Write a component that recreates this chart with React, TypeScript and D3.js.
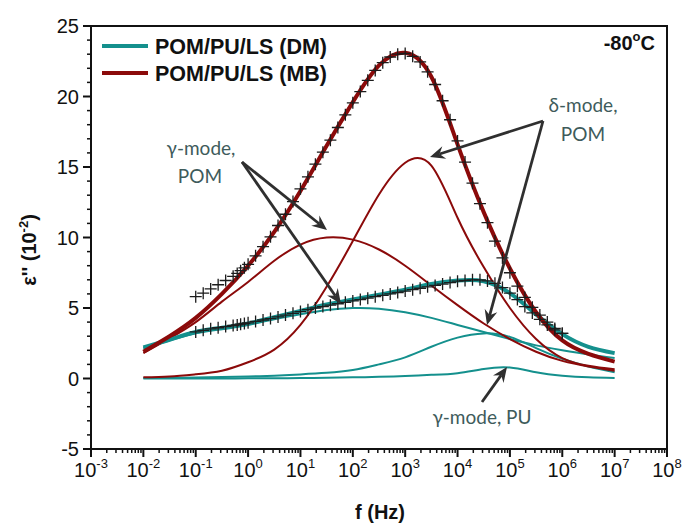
import React from "react";
import * as d3 from "d3";

// Fit curves sampled every half decade (Hz)
const fitFreq = [1e-2, 3.16e-2, 1e-1, 3.16e-1, 1, 3.16, 10, 31.6, 100, 316, 1e3, 3.16e3, 1e4, 3.16e4, 1e5, 3.16e5, 1e6, 3.16e6, 1e7];
const mbFit = [1.9, 3.0, 4.3, 6.0, 8.0, 10.4, 13.3, 16.5, 19.6, 22.2, 23.1, 21.4, 16.6, 11.8, 7.8, 4.7, 2.7, 1.75, 1.2];
const mbGammaPOM = [1.8, 2.85, 4.0, 5.45, 6.85, 8.35, 9.5, 10.0, 9.85, 9.15, 8.0, 6.6, 5.2, 3.9, 2.8, 1.9, 1.25, 0.85, 0.55];
const mbDeltaPOM = [0.08, 0.15, 0.3, 0.55, 1.15, 2.05, 3.8, 6.5, 9.75, 13.05, 15.3, 15.1, 11.4, 7.9, 5.0, 2.8, 1.45, 0.9, 0.65];
const dmFit = [2.2, 2.75, 3.3, 3.6, 3.9, 4.35, 4.8, 5.25, 5.6, 5.95, 6.3, 6.7, 6.95, 6.9, 6.05, 4.55, 3.15, 2.25, 1.8];
const dmGammaPOM = [2.15, 2.7, 3.2, 3.5, 3.8, 4.2, 4.55, 4.85, 5.0, 4.95, 4.7, 4.3, 3.8, 3.3, 2.8, 2.35, 2.0, 1.7, 1.45];
const dmDeltaPOM = [0.03, 0.05, 0.07, 0.1, 0.14, 0.2, 0.29, 0.4, 0.6, 1.0, 1.5, 2.25, 2.9, 3.2, 2.95, 2.15, 1.4, 0.85, 0.45];
const dmGammaPU = [0, 0, 0, 0, 0.01, 0.02, 0.03, 0.05, 0.08, 0.12, 0.18, 0.26, 0.38, 0.68, 0.78, 0.45, 0.2, 0.08, 0.04];

// Measured loss (Hz)
const dataFreq = [
  0.1, 0.139, 0.193, 0.268, 0.373, 0.518, 0.62, 0.72, 0.85,
  1, 1.39, 1.93, 2.68, 3.73, 5.18, 7.2,
  10, 13.9, 19.3, 26.8, 37.3, 51.8, 72,
  100, 139, 193, 268, 373, 518, 720,
  1000, 1390, 1930, 2680, 3730, 5180, 7200,
  1e4, 1.39e4, 1.93e4, 2.68e4, 3.73e4, 5.18e4, 7.2e4,
  1e5, 1.39e5, 1.93e5, 2.68e5, 3.73e5, 5.18e5, 7.2e5, 1e6,
];
const mbData = [
  5.8, 6.05, 6.35, 6.65, 6.95, 7.25, 7.45, 7.65, 7.85,
  8.1, 8.7, 9.35, 10.05, 10.85, 11.65, 12.55,
  13.45, 14.3, 15.2, 16.05, 16.9, 17.8, 18.7,
  19.55, 20.35, 21.15, 21.85, 22.4, 22.8, 23.0,
  23.05, 22.85, 22.45, 21.75, 20.85, 19.7, 18.35,
  16.85, 15.35, 13.85, 12.4, 11.05, 9.75, 8.55,
  7.5, 6.55, 5.75, 5.05, 4.5, 4.0, 3.55, 3.2,
];
const dmData = [
  3.3, 3.42, 3.52, 3.6, 3.68, 3.76, 3.8, 3.85, 3.9,
  3.95, 4.05, 4.15, 4.25, 4.37, 4.5, 4.62,
  4.75, 4.88, 5.0, 5.1, 5.2, 5.3, 5.4,
  5.5, 5.6, 5.7, 5.8, 5.9, 6.0, 6.1,
  6.2, 6.3, 6.4, 6.5, 6.6, 6.7, 6.8,
  6.9, 6.95, 7.0, 7.0, 6.92, 6.75, 6.45,
  6.05, 5.6, 5.1, 4.65, 4.2, 3.8, 3.45, 3.2,
];

const xExponents = [-3, -2, -1, 0, 1, 2, 3, 4, 5, 6, 7, 8];
const yMajor = [-5, 0, 5, 10, 15, 20, 25];
const legendLabels = ["POM/PU/LS (DM)", "POM/PU/LS (MB)"];

const TEAL = "#14908d";
const RED = "#8b0a0a";
const ARROW = "#2f2f2f";
const NOTE = "#3e5b5b";
const AXIS_FONT = "'Liberation Sans', Arial, sans-serif";
const NOTE_FONT = "Lato, 'Noto Sans', sans-serif";

const left = 91, right = 667, top = 26, bottom = 449;

export default function App() {
  const x = d3.scaleLog().domain([1e-3, 1e8]).range([left, right]);
  const y = d3.scaleLinear().domain([-5, 25]).range([bottom, top]);

  const line = (vals: number[]) =>
    d3
      .line<number>()
      .x((_, i) => x(fitFreq[i]))
      .y((v) => y(v))
      .curve(d3.curveNatural)(vals) as string;

  const minorX: number[] = [];
  for (let e = -3; e < 8; e++) {
    for (let m = 2; m <= 9; m++) minorX.push(m * Math.pow(10, e));
  }
  const minorY = d3.range(-5, 25.5, 1).filter((v) => v % 5 !== 0);

  const arrow = (x1: number, y1: number, x2: number, y2: number, key: string) => {
    const ang = Math.atan2(y2 - y1, x2 - x1);
    const len = 15, half = 6.5, notch = 10;
    const bx = x2 - len * Math.cos(ang);
    const by = y2 - len * Math.sin(ang);
    const nx = x2 - notch * Math.cos(ang);
    const ny = y2 - notch * Math.sin(ang);
    const px = -Math.sin(ang) * half;
    const py = Math.cos(ang) * half;
    return (
      <g key={key}>
        <line x1={x1} y1={y1} x2={nx} y2={ny} stroke={ARROW} strokeWidth={2.8} />
        <path
          d={`M${x2},${y2} L${bx + px},${by + py} L${nx},${ny} L${bx - px},${by - py} Z`}
          fill={ARROW}
        />
      </g>
    );
  };

  const cross = (f: number, v: number, i: number) => {
    const cx = x(f), cy = y(v), s = 6;
    return (
      <path
        key={i}
        d={`M${cx - s},${cy}H${cx + s}M${cx},${cy - s}V${cy + s}`}
        stroke="#1c1c1c"
        strokeWidth={1.3}
        fill="none"
      />
    );
  };

  return (
    <svg
      width={683}
      height={526}
      style={{ position: "absolute", left: 0, top: 0, background: "#fff" }}
      fontFamily={AXIS_FONT}
    >
      <rect x={0} y={0} width={683} height={526} fill="#fff" />

      {/* component curves */}
      <path d={line(dmGammaPU)} fill="none" stroke={TEAL} strokeWidth={2} />
      <path d={line(dmDeltaPOM)} fill="none" stroke={TEAL} strokeWidth={2} />
      <path d={line(dmGammaPOM)} fill="none" stroke={TEAL} strokeWidth={2} />
      <path d={line(mbGammaPOM)} fill="none" stroke={RED} strokeWidth={2} />
      <path d={line(mbDeltaPOM)} fill="none" stroke={RED} strokeWidth={2} />

      {/* total fits */}
      <path d={line(dmFit)} fill="none" stroke={TEAL} strokeWidth={4} />
      <path d={line(mbFit)} fill="none" stroke={RED} strokeWidth={4} />

      {/* measured points */}
      <g>{dataFreq.map((f, i) => cross(f, dmData[i], i))}</g>
      <g>{dataFreq.map((f, i) => cross(f, mbData[i], i))}</g>

      {/* frame */}
      <rect x={left} y={top} width={right - left} height={bottom - top} fill="none" stroke="#111" strokeWidth={2} />

      {/* y axis */}
      {minorY.map((v) => (
        <line key={"my" + v} x1={left - 4} x2={left} y1={y(v)} y2={y(v)} stroke="#111" strokeWidth={1.5} />
      ))}
      {yMajor.map((v) => (
        <g key={"y" + v}>
          <line x1={left - 8} x2={left} y1={y(v)} y2={y(v)} stroke="#111" strokeWidth={2} />
          <text x={left - 12} y={y(v)} dy="0.36em" textAnchor="end" fontSize={20} fill="#111">
            {v}
          </text>
        </g>
      ))}

      {/* x axis */}
      {minorX.map((f, i) => (
        <line key={"mx" + i} x1={x(f)} x2={x(f)} y1={bottom} y2={bottom + 4} stroke="#111" strokeWidth={1.5} />
      ))}
      {xExponents.map((e) => (
        <g key={"x" + e}>
          <line x1={x(Math.pow(10, e))} x2={x(Math.pow(10, e))} y1={bottom} y2={bottom + 8} stroke="#111" strokeWidth={2} />
          <text x={x(Math.pow(10, e))} y={477} textAnchor="middle" fontSize={20} fill="#111">
            10
            <tspan dy={-9} fontSize={13}>
              {e}
            </tspan>
          </text>
        </g>
      ))}

      {/* axis titles */}
      <text x={380} y={519} textAnchor="middle" fontSize={20} fontWeight="bold" fill="#111">
        f (Hz)
      </text>
      <text
        transform="translate(36,250) rotate(-90)"
        textAnchor="middle"
        fontSize={20}
        fontWeight="bold"
        fill="#111"
      >
        ε'' (10
        <tspan dy={-8} fontSize={13}>
          -2
        </tspan>
        <tspan dy={8}>)</tspan>
      </text>

      {/* legend */}
      <line x1={102} x2={148} y1={46} y2={46} stroke={TEAL} strokeWidth={4} />
      <line x1={102} x2={148} y1={73} y2={73} stroke={RED} strokeWidth={4} />
      <text x={155} y={53.5} fontSize={21.5} fontWeight="bold" fill="#111">
        {legendLabels[0]}
      </text>
      <text x={155} y={80.5} fontSize={21.5} fontWeight="bold" fill="#111">
        {legendLabels[1]}
      </text>

      {/* temperature */}
      <text x={655} y={50} textAnchor="end" fontSize={20} fontWeight="bold" fill="#111">
        -80
        <tspan dy={-9} fontSize={13}>
          o
        </tspan>
        <tspan dy={9}>C</tspan>
      </text>

      {/* annotations */}
      <g fontFamily={NOTE_FONT} fontSize={19} fill={NOTE}>
        <text x={201} y={155} textAnchor="middle">γ-mode,</text>
        <text x={200} y={183} textAnchor="middle">POM</text>
        <text x={583} y={112} textAnchor="middle">δ-mode,</text>
        <text x={583} y={141} textAnchor="middle">POM</text>
        <text x={482} y={424} textAnchor="middle">γ-mode, PU</text>
      </g>
      {arrow(242, 162, 327, 230, "a1")}
      {arrow(242, 162, 341, 304, "a2")}
      {arrow(543, 121, 430, 157, "a3")}
      {arrow(543, 121, 487, 325, "a4")}
      {arrow(482, 402, 507, 367, "a5")}
    </svg>
  );
}
